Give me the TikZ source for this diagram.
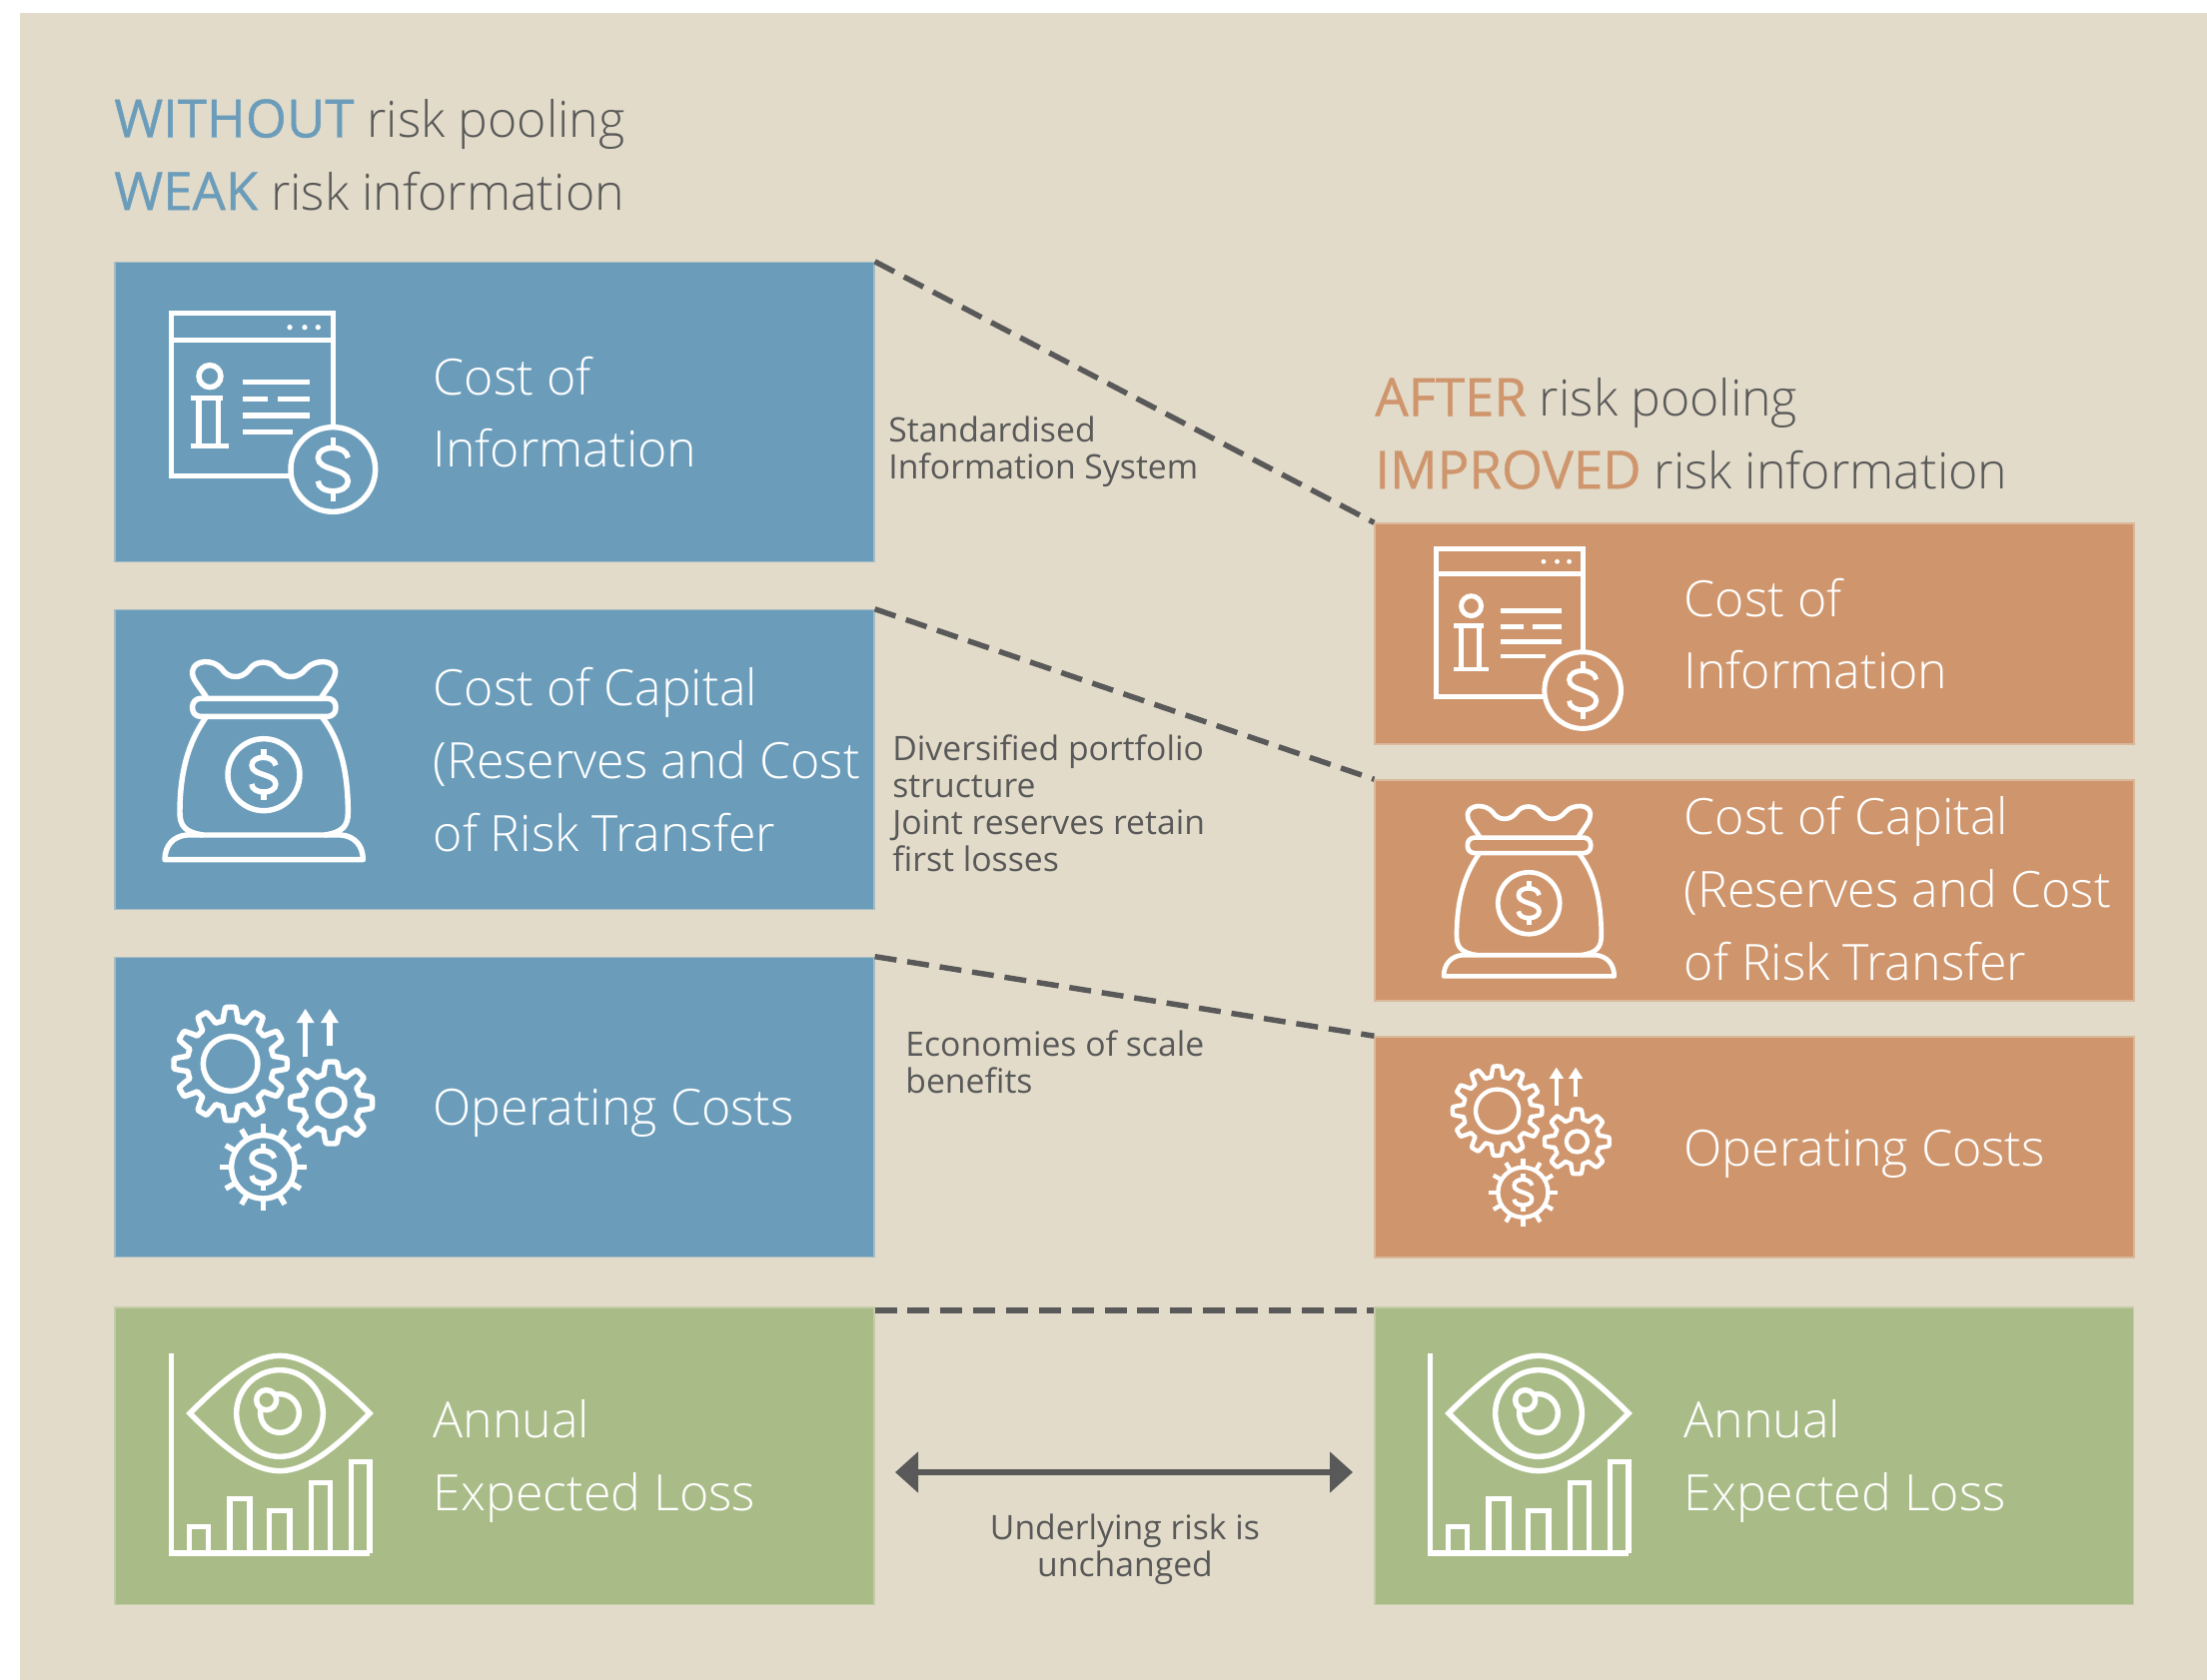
\documentclass[tikz,border=0pt]{standalone}
\usepackage{fontspec}
\setmainfont{Open Sans Light}
\newfontfamily\headfont{Open Sans}[FakeBold=0.8]
\newfontfamily\notefont{Open Sans}
\usepackage{xcolor}
\usepackage{tikz}
\usetikzlibrary{arrows.meta}
\definecolor{paper}{HTML}{E2DBC9}
\definecolor{poolblue}{HTML}{6B9DBB}
\definecolor{poolorange}{HTML}{CF966D}
\definecolor{poolgreen}{HTML}{A9BC87}
\definecolor{inkgrey}{HTML}{595959}
\newcommand{\blueword}[1]{{\headfont\fontsize{30}{41.4}\selectfont\textcolor{poolblue}{#1}}}
\newcommand{\orangeword}[1]{{\headfont\fontsize{30}{41.4}\selectfont\textcolor{poolorange}{#1}}}
\newcommand{\dollarmark}[3]{
    \begin{scope}[shift={(#1,#2)},scale=#3]
        \draw (45,-35) .. controls (40,-75) and (-45,-75) .. (-45,-35)
            .. controls (-45,5) and (45,-5) .. (45,35)
            .. controls (45,75) and (-45,75) .. (-45,35);
        \draw (0,-95) -- (0,-70);
        \draw (0,70) -- (0,95);
    \end{scope}
}
\newcommand{\iconinfo}[3]{
    \begin{scope}[shift={(#1,#2)},scale=#3/3,white,line width=3.1pt*#3]
        \draw (700,530) -- (700,190) -- (215,190) -- (215,680) -- (570,680);
        \draw (215,272) -- (700,272);
        \fill (570,233) circle (8) (615,233) circle (8) (655,233) circle (8);
        \draw (330,380) circle (33);
        \draw (272,445) -- (370,445) (297,445) -- (297,590) (355,445) -- (355,590);
        \draw (272,590) -- (388,590);
        \draw (428,397) -- (630,397);
        \draw (428,449) -- (505,449) (535,449) -- (630,449);
        \draw (428,498) -- (630,498);
        \draw (428,547) -- (578,547);
        \draw (700,660) circle (127);
        \dollarmark{700}{660}{1}
    \end{scope}
}
\newcommand{\iconbag}[3]{
    \begin{scope}[shift={(#1,#2)},scale=#3/3,white,line width=3.1pt*#3,line join=round]
        \draw (230,205) .. controls (205,165) and (185,150) .. (188,125)
            .. controls (195,90) and (250,90) .. (275,118)
            .. controls (295,150) and (335,150) .. (358,122)
            .. controls (375,92) and (425,92) .. (443,122)
            .. controls (465,150) and (505,150) .. (530,118)
            .. controls (555,90) and (615,90) .. (617,125)
            .. controls (617,150) and (600,165) .. (575,205);
        \draw[rounded corners=1.6mm*#3] (188,208) rectangle (618,262);
        \draw (228,265) .. controls (190,320) and (150,400) .. (150,550)
            .. controls (150,590) and (165,610) .. (220,618);
        \draw (578,265) .. controls (620,320) and (655,400) .. (655,550)
            .. controls (655,590) and (640,610) .. (585,618);
        \draw (105,692) .. controls (105,650) and (130,622) .. (170,618)
            -- (635,618) .. controls (675,622) and (700,650) .. (700,692) -- cycle;
        \draw (402,437) circle (108);
        \dollarmark{402}{437}{0.8}
    \end{scope}
}
\newcommand{\gearcurve}[5]{
    \draw[smooth,samples=289,domain=0:360] plot
        ({#1+(#3+#4*max(-1,min(1,2*cos(#5*\x))))*cos(\x)},
         {#2+(#3+#4*max(-1,min(1,2*cos(#5*\x))))*sin(\x)}) -- cycle;
}
\newcommand{\icongears}[3]{
    \begin{scope}[shift={(#1,#2)},scale=#3/3,white,line width=3.1pt*#3,line join=round]
        \gearcurve{272}{255}{150}{20}{12}
        \draw (272,255) circle (82);
        \gearcurve{575}{372}{105}{18}{8}
        \draw (575,372) circle (40);
        \draw (370,565) circle (95);
        \foreach \a in {0,30,...,330} {
            \draw ({370+95*cos(\a)},{565+95*sin(\a)}) -- ({370+130*cos(\a)},{565+130*sin(\a)});
        }
        \dollarmark{370}{565}{0.75}
        \draw (497,235) -- (497,125);
        \draw (570,200) -- (570,125);
        \fill (497,90) -- (524,132) -- (470,132) -- cycle;
        \fill (570,90) -- (597,132) -- (543,132) -- cycle;
    \end{scope}
}
\newcommand{\iconeye}[3]{
    \begin{scope}[shift={(#1,#2)},scale=#3/3,white,line width=3.1pt*#3,line join=miter]
        \draw (95,75) -- (95,675) -- (690,675);
        \draw (150,255) .. controls (240,165) and (330,82) .. (420,82)
            .. controls (510,82) and (600,165) .. (690,255)
            .. controls (600,345) and (510,428) .. (420,428)
            .. controls (330,428) and (240,345) .. (150,255) -- cycle;
        \draw (420,255) circle (130);
        \draw (420,255) circle (58);
        \draw[fill=poolgreen] (380,215) circle (30);
        \draw (148,675) -- (148,595) -- (205,595) -- (205,675);
        \draw (270,675) -- (270,512) -- (330,512) -- (330,675);
        \draw (388,675) -- (388,547) -- (450,547) -- (450,675);
        \draw (515,675) -- (515,463) -- (572,463) -- (572,675);
        \draw (635,675) -- (635,400) -- (690,400) -- (690,675);
    \end{scope}
}

\begin{document}
\begin{tikzpicture}[
    x=0.02cm, y=-0.02cm,
    node distance=6.96cm,
    >={Triangle[width=8mm,length=4.6mm]},
    bigbox/.style = {rectangle, inner sep=0pt, minimum width=15.2cm, minimum height=6cm, line width=0.8pt},
    bluebox/.style = {bigbox, fill=poolblue, draw=poolblue!50!paper},
    greenbox/.style = {bigbox, fill=poolgreen, draw=poolgreen!50!paper, minimum height=5.96cm},
    orangebox/.style = {bigbox, fill=poolorange, draw=poolorange!50!paper, minimum height=4.42cm},
    boxtext/.style = {anchor=west, inner sep=0pt, align=left, text=white,
        font=\fontsize{28.5}{41.4}\selectfont},
    headtext/.style = {anchor=west, inner sep=0pt, align=left, text=inkgrey,
        font=\fontsize{28.5}{41.4}\selectfont},
    notetext/.style = {anchor=west, inner sep=0pt, align=left, text=inkgrey,
        font=\notefont\fontsize{19.2}{21}\selectfont},
    dashline/.style = {inkgrey, line width=3.1pt, dash pattern=on 12.5pt off 6.2pt}]
    \useasboundingbox (0,0) rectangle (2209,1682);
    \fill[white] (0,0) rectangle (2209,1682);
    \fill[paper] (20,13) rectangle (2209,1682);

    \node (head1) [headtext] at (114,155) {\blueword{WITHOUT} risk pooling \\ \blueword{WEAK} risk information};
    \node (head2) [headtext] at (1376,434) {\orangeword{AFTER} risk pooling \\ \orangeword{IMPROVED} risk information};

    \node (blue1) [bluebox] at (495,412.5) {};
    \node (blue2) [bluebox, below of=blue1] {};
    \node (blue3) [bluebox, below of=blue2] {};
    \node (green1) [greenbox, below of=blue3, yshift=-0.03cm] {};
    \node (orange1) [orangebox] at (1756,634.5) {};
    \node (orange2) [orangebox, below of=orange1, yshift=1.82cm] {};
    \node (orange3) [orangebox, below of=orange2, yshift=1.82cm] {};
    \node (green2) [greenbox, right of=green1, xshift=18.22cm, node distance=7cm] {};

    \node (text1) [boxtext, xshift=6.38cm] at (blue1.west) {Cost of \\ Information};
    \node (text2) [boxtext, xshift=6.38cm] at (blue2.west) {Cost of Capital \\ (Reserves and Cost \\ of Risk Transfer};
    \node (text3) [boxtext, xshift=6.38cm, yshift=-0.12cm] at (blue3.west) {Operating Costs};
    \node (text4) [boxtext, xshift=6.38cm, yshift=-0.1cm] at (green1.west) {Annual \\ Expected Loss};
    \node (text5) [boxtext, xshift=6.2cm] at (orange1.west) {Cost of \\ Information};
    \node (text6) [boxtext, xshift=6.2cm, yshift=0.04cm] at (orange2.west) {Cost of Capital \\ (Reserves and Cost \\ of Risk Transfer};
    \node (text7) [boxtext, xshift=6.2cm, yshift=-0.14cm] at (orange3.west) {Operating Costs};
    \node (text8) [boxtext, xshift=6.2cm, yshift=-0.1cm] at (green2.west) {Annual \\ Expected Loss};

    \node (note1) [notetext] at (889,452) {Standardised \\ Information System};
    \node (note2) [notetext] at (893,804) {Diversified portfolio \\ structure \\ Joint reserves retain \\ first losses};
    \node (note3) [notetext] at (906,1063) {Economies of scale \\ benefits};
    \node (note4) [notetext, anchor=center, align=center] at (1126,1551) {Underlying risk is \\ unchanged};

    \draw[dashline] (blue1.north east) -- (orange1.north west);
    \draw[dashline] (blue2.north east) -- (orange2.north west);
    \draw[dashline] (blue3.north east) -- (orange3.north west);
    \draw[dashline] ([yshift=-0.08cm]green1.north east) -- ([yshift=-0.08cm]green2.north west);
    \coordinate (arrowleft) at (896,1474);
    \coordinate (arrowright) at (1354,1474);
    \draw[<->, inkgrey, line width=3pt] (arrowleft) -- (arrowright);

    \iconinfo{100}{250}{1}
    \iconbag{130}{630}{1}
    \icongears{140}{980}{1}
    \iconeye{140}{1330}{1}
    \iconinfo{1373}{492}{0.905}
    \iconbag{1415}{779}{0.86}
    \icongears{1427}{1045}{0.79}
    \iconeye{1400}{1330}{1}
\end{tikzpicture}
\end{document}
